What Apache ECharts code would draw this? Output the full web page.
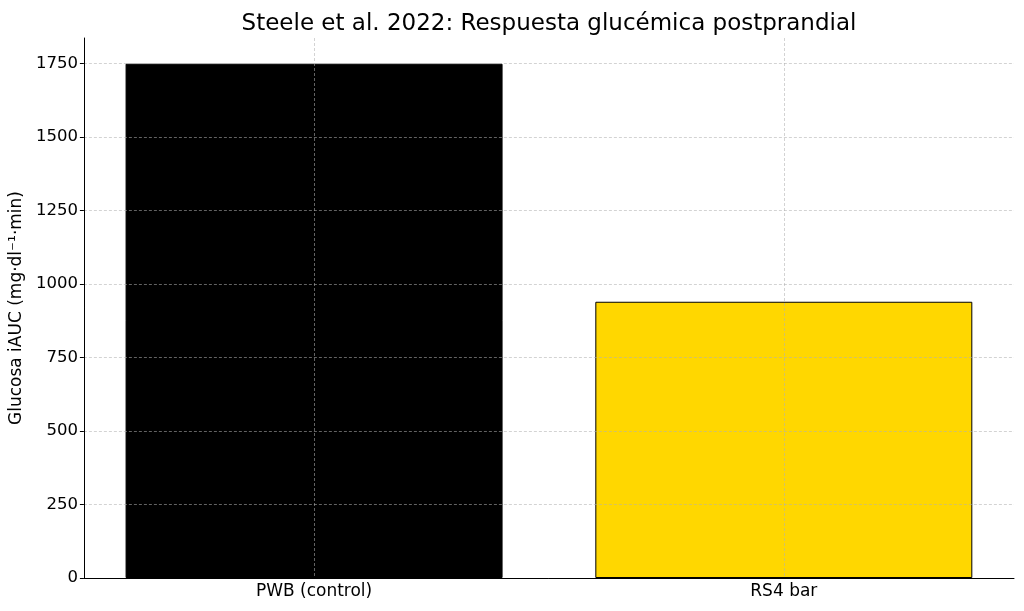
<!DOCTYPE html>
<html>
<head>
<meta charset="utf-8">
<script src="https://cdn.jsdelivr.net/npm/echarts@6/dist/echarts.min.js"></script>
<style>html,body{margin:0;padding:0;background:#fff}#c{width:1024px;height:611px}</style>
</head>
<body>
<div id="c"></div>
<script>
const categories = ['PWB (control)', 'RS4 bar'];
const values = [1750, 940];
const barColors = ['#000000', '#FFD700'];
const yTicks = [0, 250, 500, 750, 1000, 1250, 1500, 1750];
const xTicks = [0, 1];

const chart = echarts.init(document.getElementById('c'), null, {renderer: 'canvas'});
const gridLine = {color: 'rgba(176,176,176,0.7)', width: 0.8, type: [3, 2]};
const font = 'DejaVu Sans';
chart.setOption({
  animation: false,
  title: {
    text: 'Steele et al. 2022: Respuesta glucémica postprandial',
    left: 544, top: 8, textAlign: 'center',
    textStyle: {fontFamily: font, fontSize: 23, fontWeight: 'normal', color: '#000'}
  },
  grid: {left: 80, right: 10, top: 38, bottom: 33, containLabel: false},
  xAxis: {
    type: 'value', min: -0.49, max: 1.49,
    z: 5,
    axisLine: {show: true, onZero: false, lineStyle: {color: '#000', width: 1}},
    axisTick: {show: false, customValues: xTicks},
    axisLabel: {fontFamily: font, fontSize: 17, color: '#000', margin: 5,
      customValues: xTicks, formatter: v => categories[Math.round(v)]},
    splitLine: {show: true, lineStyle: gridLine}
  },
  yAxis: {
    type: 'value', min: 0, max: 1837.5, interval: 250,
    z: 5,
    name: 'Glucosa iAUC (mg·dl⁻¹·min)',
    nameLocation: 'middle', nameGap: 54, nameRotate: 90,
    nameTextStyle: {fontFamily: font, fontSize: 17, color: '#000'},
    axisLine: {show: true, onZero: false, lineStyle: {color: '#000', width: 1}},
    axisTick: {show: true, length: 4, lineStyle: {color: '#000'}, customValues: yTicks},
    axisLabel: {fontFamily: font, fontSize: 16.5, color: '#000', margin: 6,
      customValues: yTicks, formatter: v => String(v)},
    splitLine: {show: true, lineStyle: gridLine, showMinLine: false}
  },
  series: [{
    type: 'bar',
    barWidth: 377,
    data: values.map((v, i) => ({value: [xTicks[i], v], itemStyle: {color: barColors[i], borderColor: '#000', borderWidth: 1}}))
  }]
});
</script>
</body>
</html>
